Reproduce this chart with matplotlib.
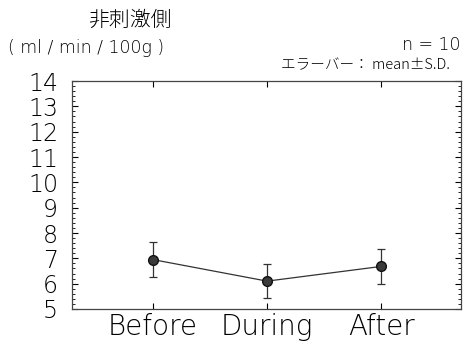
import matplotlib.pyplot as plt
from matplotlib.ticker import MultipleLocator

plt.rcParams["font.family"] = ["Noto Sans CJK JP", "DejaVu Sans"]

fases = ["Before", "During", "After"]
media = [6.95, 6.1, 6.68]
dp = [0.7, 0.67, 0.68]
yticks = list(range(5, 15))

fig = plt.figure(figsize=(4.63, 3.44), dpi=100)
ax = fig.add_axes([72 / 463, 1 - 309 / 344, (461 - 72) / 463, (309 - 81) / 344])

x = list(range(len(fases)))
ax.errorbar(x, media, yerr=dp, color="#333333", linewidth=0.9, marker="o",
            markersize=7, markerfacecolor="#3a3a3a", markeredgecolor="#111111",
            ecolor="#333333", elinewidth=0.9, capsize=3, capthick=0.9)

ax.set_xlim(-0.71, 2.7)
ax.set_ylim(5, 14)
ax.set_xticks(x)
ax.set_xticklabels(fases, fontsize=20, family="DejaVu Sans", fontweight="light")
ax.set_yticks(yticks)
ax.set_yticklabels([str(v) for v in yticks], fontsize=17, family="DejaVu Sans",
                   fontweight="light")
ax.yaxis.set_minor_locator(MultipleLocator(0.2))
ax.tick_params(axis="both", which="major", direction="in", length=4, width=0.8,
               top=True, right=True)
ax.tick_params(axis="y", which="minor", direction="in", length=2, width=0.6, right=True)
ax.tick_params(axis="y", pad=10)
ax.tick_params(axis="x", pad=3)
for s in ax.spines.values():
    s.set_linewidth(0.9)
    s.set_color("#444444")

fig.text(130 / 463, 1 - 20 / 344, "非刺激側", fontsize=15, ha="center", va="center",
         fontweight="light")
fig.text(8 / 463, 1 - 48 / 344, "( ml / min / 100g )", fontsize=12.5, ha="left",
         va="center", family="DejaVu Sans", fontweight="light")
fig.text(460 / 463, 1 - 45 / 344, "n = 10", fontsize=12.5, ha="right", va="center",
         family="DejaVu Sans", fontweight="light")
fig.text(450 / 463, 1 - 65 / 344, "エラーバー： mean±S.D.", fontsize=10.5, ha="right",
         va="center", fontweight="light")

fig.savefig("out.png", dpi=100)
